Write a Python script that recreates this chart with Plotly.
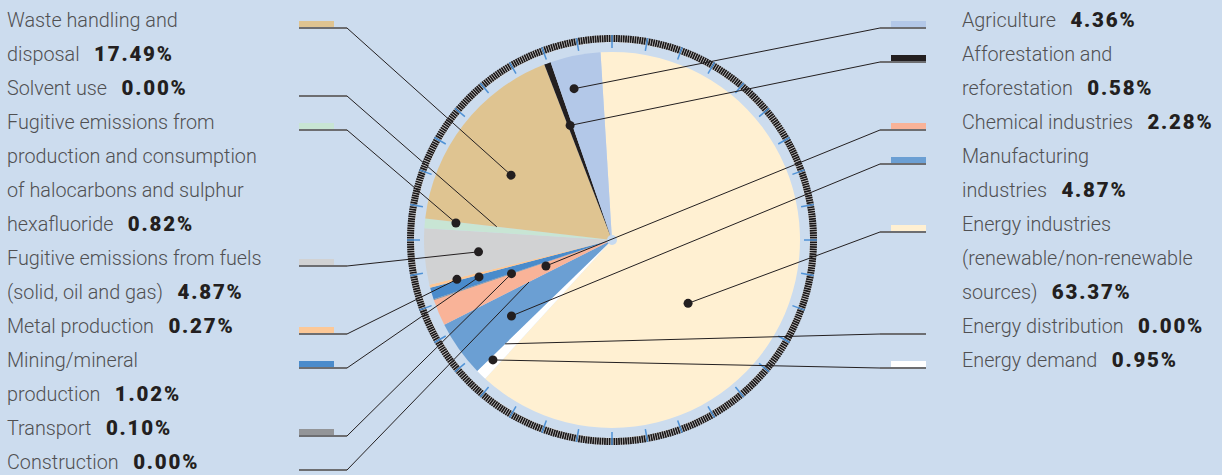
import math
import plotly.graph_objects as go

# ---------------- data (pie order, clockwise from the top) ----------------
sectors = [
    "Energy industries", "Energy demand", "Energy distribution",
    "Manufacturing industries", "Construction", "Chemical industries",
    "Transport", "Mining/mineral production", "Metal production",
    "Fugitive emissions from fuels", "Fugitive emissions (halocarbons, SF6)",
    "Solvent use", "Waste handling and disposal",
    "Afforestation and reforestation", "Agriculture",
]
values = [63.37, 0.95, 0.00, 4.87, 0.00, 2.28, 0.10, 1.02, 0.27,
          4.87, 0.82, 0.00, 17.49, 0.58, 4.36]
colors = ["#fff0d2", "#ffffff", "#ffffff", "#6b9fd3", "#ffffff", "#f9b398",
          "#939598", "#4a8bcb", "#fcc897", "#d1d2d3", "#c8e5d4", "#ffffff",
          "#dfc491", "#231f20", "#b3c8e8"]

label_lines = {
    "Waste handling and disposal": ["Waste handling and", "disposal"],
    "Solvent use": ["Solvent use"],
    "Fugitive emissions (halocarbons, SF6)": ["Fugitive emissions from", "production and consumption",
                                              "of halocarbons and sulphur", "hexafluoride"],
    "Fugitive emissions from fuels": ["Fugitive emissions from fuels", "(solid, oil and gas)"],
    "Metal production": ["Metal production"],
    "Mining/mineral production": ["Mining/mineral", "production"],
    "Transport": ["Transport"],
    "Construction": ["Construction"],
    "Agriculture": ["Agriculture"],
    "Afforestation and reforestation": ["Afforestation and", "reforestation"],
    "Chemical industries": ["Chemical industries"],
    "Manufacturing industries": ["Manufacturing", "industries"],
    "Energy industries": ["Energy industries", "(renewable/non-renewable", "sources)"],
    "Energy distribution": ["Energy distribution"],
    "Energy demand": ["Energy demand"],
}
left_order = ["Waste handling and disposal", "Solvent use", "Fugitive emissions (halocarbons, SF6)",
              "Fugitive emissions from fuels", "Metal production", "Mining/mineral production",
              "Transport", "Construction"]
right_order = ["Agriculture", "Afforestation and reforestation", "Chemical industries",
               "Manufacturing industries", "Energy industries", "Energy distribution", "Energy demand"]

# ---------------- layout / style ----------------
W, H = 1222, 475
BG = "#ccdcee"
CX, CY, R = 612, 240, 188
ROTATION = -3.5
# leader anchor: fraction along the slice, distance from centre (px)
anchor_frac = {"Energy industries": 0.59, "Energy demand": 0.7, "Manufacturing industries": 0.41,
               "Chemical industries": 0.66, "Mining/mineral production": 0.78,
               "Fugitive emissions (halocarbons, SF6)": 0.89, "Waste handling and disposal": 0.42,
               "Agriculture": 0.32}
anchor_r = {"Energy industries": 99, "Energy demand": 169, "Energy distribution": 149,
            "Manufacturing industries": 126, "Construction": 93, "Chemical industries": 71,
            "Transport": 106, "Mining/mineral production": 138, "Metal production": 160,
            "Fugitive emissions from fuels": 134, "Fugitive emissions (halocarbons, SF6)": 157,
            "Solvent use": 116, "Waste handling and disposal": 120,
            "Afforestation and reforestation": 122, "Agriculture": 156}

FONT = "Roboto, 'Liberation Sans', Arial, sans-serif"
FS = 19.8
ROW0, ROWH = 20, 34
LEFT_TX, RIGHT_TX = 6, 961

fig = go.Figure()

# pie slices
fig.add_trace(go.Pie(
    values=values, labels=sectors, sort=False, direction="clockwise", rotation=ROTATION,
    marker=dict(colors=colors, line=dict(width=0)), textinfo="none", hoverinfo="label+value",
    showlegend=False,
    domain=dict(x=[(CX - R) / W, (CX + R) / W], y=[(H - CY - R) / H, (H - CY + R) / H]),
))

# slice angles (clockwise from top, degrees)
total = sum(values)
start_ang = {}
span_ang = {}
a = ROTATION
for s, v in zip(sectors, values):
    start_ang[s] = a
    span_ang[s] = v / total * 360
    a += span_ang[s]


def polar(ang_deg, r):
    t = math.radians(ang_deg)
    return CX + r * math.sin(t), CY - r * math.cos(t)


# outer ring: light base + fine black ticks + blue ticks
base_x, base_y = [], []
for i in range(721):
    x, y = polar(i * 0.5, 201.5)
    base_x.append(x)
    base_y.append(y)
fig.add_trace(go.Scatter(x=base_x, y=base_y, mode="lines", line=dict(color="#dedede", width=7),
                         hoverinfo="skip", showlegend=False))
tx, ty = [], []
NT = 540
for i in range(NT):
    ang = i * 360 / NT
    x0, y0 = polar(ang, 198)
    x1, y1 = polar(ang, 205)
    tx += [x0, x1, None]
    ty += [y0, y1, None]
fig.add_trace(go.Scatter(x=tx, y=ty, mode="lines", line=dict(color="#1a1718", width=1.7),
                         hoverinfo="skip", showlegend=False))
bx, by = [], []
for i in range(36):
    ang = i * 10
    x0, y0 = polar(ang, 192)
    x1, y1 = polar(ang, 205)
    bx += [x0, x1, None]
    by += [y0, y1, None]
fig.add_trace(go.Scatter(x=bx, y=by, mode="lines", line=dict(color="#4f92d6", width=1.5),
                         hoverinfo="skip", showlegend=False))

shapes = []
annotations = []
# centre dot
shapes.append(dict(type="circle", xref="x", yref="y", x0=CX - 5, x1=CX + 5, y0=CY - 5, y1=CY + 5,
                   fillcolor="#c6daf0", line=dict(width=0), layer="above"))

val_of = dict(zip(sectors, values))
col_of = dict(zip(sectors, colors))


def value_html(v):
    return ("\u00a0\u00a0\u00a0<span style='font-weight:900;font-size:20.5px;color:#231f20;"
            f"letter-spacing:1.8px'>{v:.2f}%</span>")


def add_side(order, side):
    row = 0
    for s in order:
        lines = label_lines[s]
        v = val_of[s]
        for j, ln in enumerate(lines):
            txt = ln + (value_html(v) if j == len(lines) - 1 else "")
            annotations.append(dict(
                x=LEFT_TX if side == "left" else RIGHT_TX, y=ROW0 + ROWH * (row + j),
                xref="x", yref="y", xanchor="left", yanchor="middle", showarrow=False,
                text=txt, borderpad=0,
                font=dict(family=FONT, size=FS, color="#505052", weight=300)))
        yl = ROW0 - 1 + ROWH * row + 9
        if side == "left":
            sw0, sw1, knee = 299, 334, 347
        else:
            sw0, sw1, knee = 891, 926, 880
        # leader to anchor
        frac = anchor_frac.get(s, 0.5)
        ang = start_ang[s] + frac * span_ang[s]
        axp, ayp = polar(ang, anchor_r[s])
        shapes.append(dict(type="line", xref="x", yref="y", x0=knee, y0=yl, x1=axp, y1=ayp,
                           line=dict(color="#231f20", width=1), layer="above"))
        shapes.append(dict(type="line", xref="x", yref="y", x0=min(sw0, knee), y0=yl,
                           x1=max(sw1, knee), y1=yl, line=dict(color="#6d6e71", width=1.8),
                           layer="above"))
        if v > 0:
            shapes.append(dict(type="rect", xref="x", yref="y", x0=sw0, x1=sw1, y0=yl - 7, y1=yl - 1,
                               fillcolor=col_of[s], line=dict(width=0), layer="above"))
            shapes.append(dict(type="circle", xref="x", yref="y", x0=axp - 4.5, x1=axp + 4.5,
                               y0=ayp - 4.5, y1=ayp + 4.5, fillcolor="#231f20",
                               line=dict(width=0), layer="above"))
        row += len(lines)


add_side(left_order, "left")
add_side(right_order, "right")

fig.update_layout(
    width=W, height=H, margin=dict(l=0, r=0, t=0, b=0, pad=0),
    paper_bgcolor=BG, plot_bgcolor=BG,
    xaxis=dict(range=[0, W], visible=False, fixedrange=True, showgrid=False, zeroline=False),
    yaxis=dict(range=[H, 0], visible=False, fixedrange=True, showgrid=False, zeroline=False),
    shapes=shapes, annotations=annotations, showlegend=False,
)

fig.write_html("out.html")
